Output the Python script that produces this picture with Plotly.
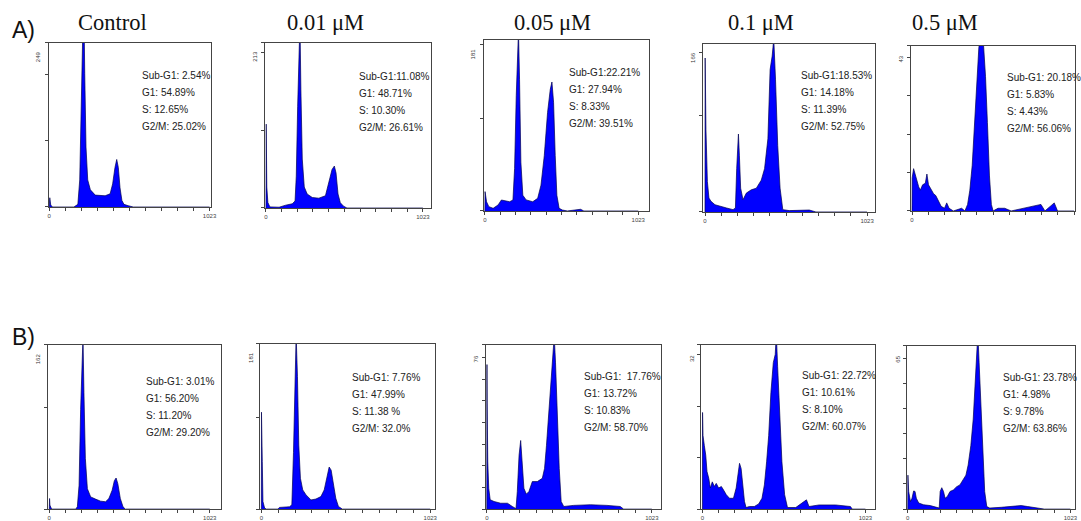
import plotly.graph_objects as go

W, H = 1081, 521

# column titles and row labels
titles = ["Control", "0.01 μM", "0.05 μM", "0.1 μM", "0.5 μM"]
title_x = [112, 327, 555, 765, 950]
row_labels = ["A)", "B)"]

# DNA content histograms: channel (0-1023) and cell count
a1_ch = [0, 4, 10, 21, 158, 183, 195, 206, 214, 220, 227, 235, 246, 263, 294, 326, 357, 389, 405, 420, 431, 441, 452, 464, 477, 504, 536, 1023]
a1_n = [0, 14, 3, 0, 0, 4, 41, 171, 308, 330, 202, 91, 41, 26, 18, 17, 17, 20, 35, 60, 72, 60, 29, 10, 4, 2, 0, 0]

a2_ch = [0, 2, 6, 13, 26, 86, 129, 172, 190, 198, 207, 215, 222, 228, 237, 250, 269, 302, 345, 388, 409, 431, 446, 457, 470, 485, 506, 528, 1023]
a2_n = [0, 108, 27, 7, 1.4, 1, 3.6, 5.4, 9, 41, 131, 216, 240, 153, 63, 27, 18, 13.5, 12.6, 15.8, 31.6, 49.6, 54, 45, 18, 6.8, 2.3, 0, 0]

a3_ch = [0, 1, 11, 26, 55, 88, 110, 132, 165, 187, 198, 209, 218, 224, 231, 240, 253, 275, 319, 352, 374, 396, 418, 436, 447, 458, 469, 480, 495, 517, 550, 638, 660, 1023]
a3_n = [0, 21, 10, 4.7, 2.9, 6.5, 11.9, 10.8, 10, 11.9, 46, 125, 183, 195, 143, 53, 17, 12, 10, 13.7, 28, 60, 107, 132, 140, 118, 60, 17, 2.9, 1, 0, 1.8, 0, 0]

a4_ch = [0, 1, 6, 15, 25, 38, 63, 94, 136, 177, 192, 200, 207, 211, 217, 225, 240, 261, 292, 324, 355, 376, 397, 411, 424, 434, 445, 459, 474, 491, 532, 574, 658, 700, 1023]
a4_n = [0, 160, 86, 31.6, 14.4, 11, 7.5, 5.8, 4.1, 2.4, 4.1, 45, 76, 81, 59, 24.7, 12.7, 19.6, 23, 24.7, 33, 45, 76, 148, 162, 180, 138, 69, 24.7, 2.4, 1.4, 1.7, 2, 0, 0]

a5_ch = [0, 1, 10, 21, 31, 42, 52, 67, 84, 94, 104, 121, 136, 150, 167, 184, 205, 219, 234, 261, 313, 334, 351, 365, 380, 397, 411, 422, 434, 443, 451, 464, 476, 489, 501, 512, 543, 585, 626, 814, 839, 898, 919, 1023]
a5_n = [0, 8.6, 11, 9.1, 7.7, 6.3, 5.4, 6.8, 7.2, 9.6, 6.8, 5.4, 4.5, 4, 2.6, 1.2, 0.7, 2.1, 0.7, 0, 0.7, 0, 1.7, 5.4, 11.9, 24.9, 36, 42.5, 45.8, 47, 43.5, 35, 23, 9.1, 1.7, 0, 0.7, 0.7, 0, 1.7, 0, 2.1, 0, 0]

b1_ch = [0, 2, 4, 15, 169, 179, 190, 200, 209, 215, 221, 230, 243, 264, 295, 327, 359, 380, 401, 415, 426, 437, 453, 470, 485, 1023]
b1_n = [0, 10.4, 3.9, 0, 0, 2.3, 23.5, 98, 154, 170, 115, 50, 20, 12, 9.8, 7.8, 7.2, 10.4, 18.6, 28, 30.6, 25, 10.4, 2.3, 0, 0]

b2_ch = [0, 1, 6, 10, 20, 30, 100, 110, 171, 185, 195, 203, 211, 219, 227, 237, 251, 271, 301, 331, 361, 381, 395, 411, 423, 435, 451, 467, 491, 1023]
b2_n = [0, 106, 52, 8.3, 1.1, 0, 0, 1.8, 2.5, 4.7, 62, 145, 190, 145, 70, 33.6, 21, 15.5, 10, 11, 13.7, 21, 33.6, 46, 42.6, 30, 11.9, 2.9, 0, 0]

b3_ch = [0, 1, 2, 6, 12, 21, 45, 86, 128, 158, 181, 189, 200, 210, 220, 230, 245, 261, 282, 313, 344, 358, 370, 385, 399, 412, 418, 426, 436, 449, 461, 477, 539, 642, 745, 827, 848, 1023]
b3_n = [0, 66.8, 49, 21.8, 9.6, 4.3, 3.5, 2.7, 2.7, 1.2, 0.2, 8.1, 24.9, 31.7, 21.8, 9.6, 6.9, 8.1, 12.7, 12.7, 14.2, 18.8, 29.5, 44.7, 61.5, 72.9, 80, 67.6, 46.2, 18.8, 3.5, 1.2, 1.7, 2, 1.7, 1.2, 0, 0]

b4_ch = [0, 1, 4, 12, 21, 29, 40, 50, 62, 75, 87, 102, 119, 133, 150, 170, 195, 212, 225, 233, 243, 254, 264, 274, 295, 326, 353, 374, 389, 403, 416, 430, 445, 457, 464, 472, 484, 499, 516, 534, 586, 653, 669, 732, 836, 929, 940, 1023]
b4_n = [0, 18.8, 14.3, 12.4, 10.5, 7.3, 6, 4.1, 5.3, 4.4, 5, 4.1, 4.4, 3.7, 2.8, 2.1, 2.1, 4.1, 7.9, 8.9, 7.9, 4.7, 1.5, 0.3, 0.5, 0.5, 1, 2.1, 4.7, 9.2, 14.3, 22.7, 28.5, 30.1, 34, 27.8, 19.5, 9.2, 2.8, 0.3, 0.3, 1.8, 0.5, 0.8, 0.8, 0.5, 0, 0]

b5_ch = [0, 1, 6, 17, 27, 37, 46, 54, 69, 100, 141, 183, 198, 204, 214, 225, 235, 249, 266, 287, 308, 328, 349, 366, 380, 397, 412, 422, 432, 441, 449, 459, 472, 484, 497, 516, 588, 713, 755, 838, 859, 1023]
b5_n = [0, 13.5, 7, 3, 4.3, 7.2, 7, 4.3, 2.4, 1.7, 1.4, 0.7, 0.4, 7, 8.5, 7, 4.3, 5, 7, 7.6, 8.9, 9.6, 11.6, 13.5, 17.5, 25.3, 35.8, 50.3, 60.8, 70, 58.2, 42.4, 22.7, 7, 1, 0.4, 0.7, 1.4, 1, 0.4, 0, 0]

# y-axis maximum label of each panel, tick step and top of the scale
y_label = [249, 213, 181, 166, 43, 162, 181, 76, 32, 65]
y_step = [100, 100, 100, 100, 10, 100, 100, 10, 10, 10]
y_top = [249, 213, 186, 175, 43, 162, 181, 76, 32, 65]
x_lo = [-3, -4, -7, -10, -6, -10, -6, -6, -6, -4]
x_hi = [1030, 1077, 1093, 1075, 1029, 1092, 1053, 1078, 1085, 1052]

# cell cycle phase percentages as printed in each panel
stats = [
    ["Sub-G1: 2.54%", "G1: 54.89%", "S: 12.65%", "G2/M: 25.02%"],
    ["Sub-G1:11.08%", "G1: 48.71%", "S: 10.30%", "G2/M: 26.61%"],
    ["Sub-G1:22.21%", "G1: 27.94%", "S: 8.33%", "G2/M: 39.51%"],
    ["Sub-G1:18.53%", "G1: 14.18%", "S: 11.39%", "G2/M: 52.75%"],
    ["Sub-G1: 20.18%", "G1: 5.83%", "S: 4.43%", "G2/M: 56.06%"],
    ["Sub-G1: 3.01%", "G1: 56.20%", "S: 11.20%", "G2/M: 29.20%"],
    ["Sub-G1: 7.76%", "G1: 47.99%", "S: 11.38 %", "G2/M: 32.0%"],
    ["Sub-G1:  17.76%", "G1: 13.72%", "S: 10.83%", "G2/M: 58.70%"],
    ["Sub-G1: 22.72%", "G1: 10.61%", "S: 8.10%", "G2/M: 60.07%"],
    ["Sub-G1: 23.78%", "G1: 4.98%", "S: 9.78%", "G2/M: 63.86%"],
]

hists = [(a1_ch, a1_n), (a2_ch, a2_n), (a3_ch, a3_n), (a4_ch, a4_n), (a5_ch, a5_n),
         (b1_ch, b1_n), (b2_ch, b2_n), (b3_ch, b3_n), (b4_ch, b4_n), (b5_ch, b5_n)]

# panel frames in pixels (left, top, right, bottom)
boxes = [
    (48, 43, 211, 209), (266, 43, 433, 210), (486, 40, 652, 213), (707, 44, 880, 214), (916, 46, 1081, 213),
    (47, 348, 221, 514), (261, 347, 437, 514), (488, 348, 664, 514), (705, 348, 880, 514), (912, 349, 1081, 514),
]
text_pos = [
    (140, 76), (358, 77), (570, 73), (803, 76), (1011, 78),
    (144, 385), (351, 381), (585, 380), (804, 379), (1007, 381),
]

SANS = "Liberation Sans, Arial, sans-serif"
SERIF = "Liberation Serif, Times New Roman, serif"

fig = go.Figure()
annotations = []
layout = {}

for i, (ch, n) in enumerate(hists):
    k = "" if i == 0 else str(i + 1)
    x0, y0, x1, y1 = boxes[i]
    fig.add_trace(go.Scatter(
        x=ch, y=n, xaxis="x" + k, yaxis="y" + k,
        mode="lines", fill="tozeroy", fillcolor="#0000ff",
        line=dict(color="#000050", width=0.7), hoverinfo="skip", showlegend=False,
    ))
    xt = [j * 1023 / 10 for j in range(11)]
    layout["xaxis" + k] = dict(
        domain=[x0 / W, min(x1 / W, 1)], range=[x_lo[i], x_hi[i]], anchor="y" + k,
        showgrid=False, zeroline=False, showline=True, mirror=True, linecolor="#444", linewidth=1,
        ticks="outside", ticklen=3, tickcolor="#444", tickwidth=1,
        tickvals=xt, ticktext=["0"] + [""] * 9 + ["1023"],
        tickfont=dict(size=6, color="#444", family=SANS),
    )
    yt = list(range(0, y_label[i] + 1, y_step[i]))
    if yt[-1] != y_label[i]:
        yt.append(y_label[i])
    layout["yaxis" + k] = dict(
        domain=[1 - y1 / H, 1 - y0 / H], range=[0, y_top[i]], anchor="x" + k,
        showgrid=False, zeroline=False, showline=True, mirror=True, linecolor="#444", linewidth=1,
        ticks="outside", ticklen=3, tickcolor="#444", tickwidth=1,
        tickvals=yt, showticklabels=False,
    )
    annotations.append(dict(
        text=str(y_label[i]), x=(x0 - 10) / W, y=1 - (y0 + 14) / H, xref="paper", yref="paper",
        xanchor="center", yanchor="middle",
        textangle=-90, showarrow=False, font=dict(size=6, color="#333", family=SANS),
    ))
    tx, ty = text_pos[i]
    for j, line in enumerate(stats[i]):
        annotations.append(dict(
            text=line, x=tx / W, y=1 - (ty + j * 17.3) / H, xref="paper", yref="paper",
            xanchor="left", yanchor="middle", showarrow=False,
            font=dict(size=10, color="#222", family=SANS),
        ))

for t, cx in zip(titles, title_x):
    annotations.append(dict(
        text=t, x=cx / W, y=1 - 23 / H, xref="paper", yref="paper",
        xanchor="center", yanchor="middle",
        showarrow=False, font=dict(size=22.5, color="#111", family=SERIF),
    ))
for lbl, cy in zip(row_labels, [30, 340]):
    annotations.append(dict(
        text=lbl, x=23 / W, y=1 - cy / H, xref="paper", yref="paper",
        xanchor="center", yanchor="middle",
        showarrow=False, font=dict(size=23, color="#111", family=SANS),
    ))

fig.update_layout(
    width=W, height=H, margin=dict(l=0, r=0, t=0, b=0),
    paper_bgcolor="white", plot_bgcolor="white",
    annotations=annotations, **layout,
)

fig.write_html("out.html", config={"displayModeBar": False},
               post_script="document.body.style.margin='0';")
